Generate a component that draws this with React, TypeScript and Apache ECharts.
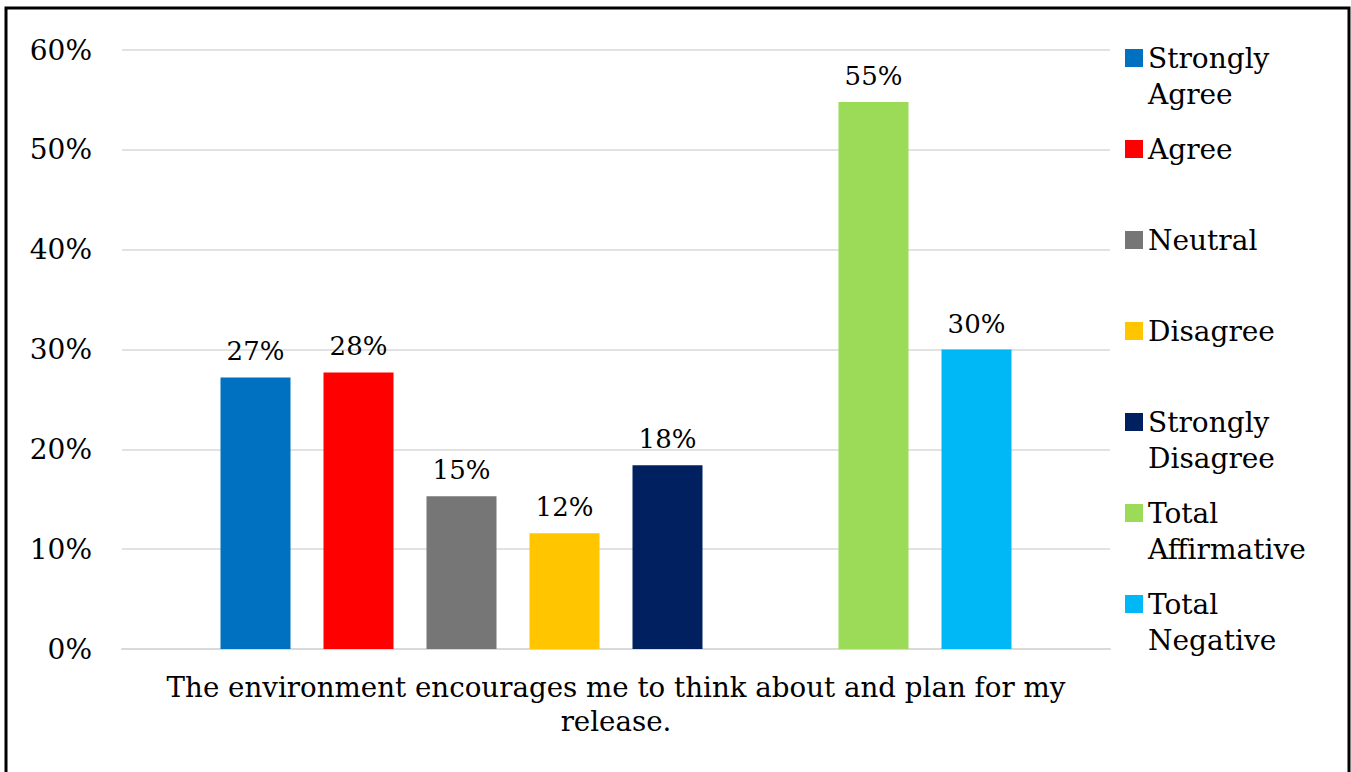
import React, { useEffect, useRef } from "react";
import * as echarts from "echarts";

const categories = ["The environment encourages me to think about and plan for my\nrelease."];
const seriesNames = [
  "Strongly Agree",
  "Agree",
  "Neutral",
  "Disagree",
  "Strongly Disagree",
  "spacer",
  "Total Affirmative",
  "Total Negative",
];
const seriesValues: (number | null)[] = [27.2, 27.7, 15.3, 11.6, 18.4, null, 54.8, 30.0];
const seriesColors = ["#0070C0", "#FF0000", "#767676", "#FFC600", "#002060", "#ffffff", "#9BDB58", "#00B8F5"];
const legendNames = [
  "Strongly Agree",
  "Agree",
  "Neutral",
  "Disagree",
  "Strongly Disagree",
  "Total Affirmative",
  "Total Negative",
];
const legendLabels = [
  "Strongly\nAgree",
  "Agree\n ",
  "Neutral\n ",
  "Disagree\n ",
  "Strongly\nDisagree",
  "Total\nAffirmative",
  "Total\nNegative",
];
const yTicks = { min: 0, max: 60, interval: 10 };

const FONT = "'DejaVu Serif', serif";
const ICON = "path://M0,0h0.01v0.01h-0.01z M0,9h18v18h-18z M0,71.99h0.01v0.01h-0.01z";

export default function App() {
  const ref = useRef<HTMLDivElement>(null);
  useEffect(() => {
    if (!ref.current) return;
    const chart = echarts.init(ref.current, null, { renderer: "svg" });
    const series: any[] = seriesNames.map((name, i) => ({
      type: "bar",
      name,
      data: [seriesValues[i]],
      barWidth: 70,
      barGap: "47.14%",
      itemStyle: { color: seriesColors[i] },
      label: {
        show: seriesValues[i] !== null,
        position: "top",
        distance: 13,
        fontFamily: FONT,
        fontSize: 26,
        color: "#000",
        formatter: (p: any) => Math.round(p.value) + "%",
      },
    }));
    chart.setOption({
      animation: false,
      graphic: [
        {
          type: "rect",
          shape: { x: 6, y: 8, width: 1343, height: 800 },
          style: { fill: "none", stroke: "#000", lineWidth: 3 },
          silent: true,
        },
      ],
      grid: { left: 122, right: 241, top: 50, bottom: 123, containLabel: false },
      legend: {
        orient: "vertical",
        left: 1125,
        top: 40,
        padding: 0,
        itemWidth: 18,
        itemHeight: 72,
        itemGap: 19,
        selectedMode: false,
        data: legendNames.map((n) => ({ name: n, icon: ICON })),
        formatter: (name: string) => legendLabels[legendNames.indexOf(name)],
        textStyle: { fontFamily: FONT, fontSize: 28, lineHeight: 36, color: "#000" },
      },
      xAxis: {
        type: "category",
        data: categories,
        axisLine: { lineStyle: { color: "#d9d9d9", width: 2 } },
        axisTick: { show: false },
        axisLabel: {
          fontFamily: FONT,
          fontSize: 27.7,
          lineHeight: 34,
          color: "#000",
          margin: 21,
          interval: 0,
        },
      },
      yAxis: {
        type: "value",
        min: yTicks.min,
        max: yTicks.max,
        interval: yTicks.interval,
        axisLine: { show: false },
        axisTick: { show: false },
        splitLine: { lineStyle: { color: "#d9d9d9", width: 1.5 } },
        axisLabel: {
          fontFamily: FONT,
          fontSize: 28,
          color: "#000",
          margin: 30,
          formatter: "{value}%",
        },
      },
      series,
    });
    return () => chart.dispose();
  }, []);
  return (
    <div
      ref={ref}
      style={{ position: "fixed", left: 0, top: 0, width: 1351, height: 772, background: "#fff" }}
    />
  );
}
